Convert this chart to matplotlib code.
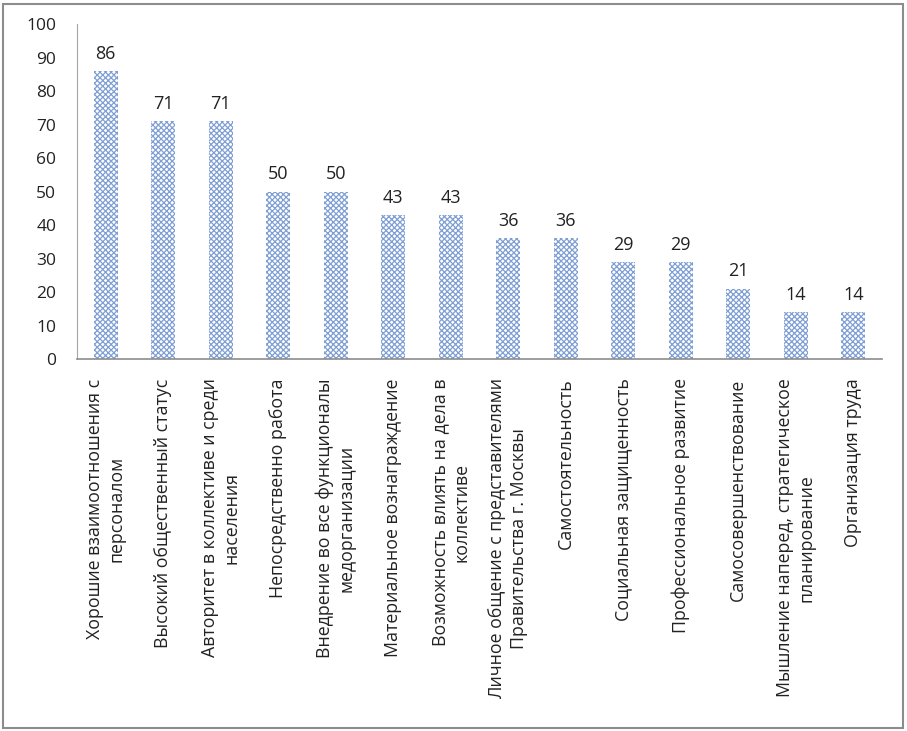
import matplotlib
matplotlib.use("Agg")
import matplotlib.pyplot as plt
from matplotlib.patches import Rectangle

categories = [
    "Хорошие взаимоотношения с\nперсоналом",
    "Высокий общественный статус",
    "Авторитет в коллективе и среди\nнаселения",
    "Непосредственно работа",
    "Внедрение во все функционалы\nмедорганизации",
    "Материальное вознаграждение",
    "Возможность влиять на дела в\nколлективе",
    "Личное общение с представителями\nПравительства г. Москвы",
    "Самостоятельность",
    "Социальная защищенность",
    "Профессиональное развитие",
    "Самосовершенствование",
    "Мышление наперед, стратегическое\nпланирование",
    "Организация труда",
]
values = [86, 71, 71, 50, 50, 43, 43, 36, 36, 29, 29, 21, 14, 14]
yticks = [0, 10, 20, 30, 40, 50, 60, 70, 80, 90, 100]

plt.rcParams['font.family'] = ['Open Sans', 'DejaVu Sans']
plt.rcParams['hatch.linewidth'] = 0.9

fig = plt.figure(figsize=(9.07, 7.31), dpi=100)
ax = fig.add_axes([77/907, 1-359/731, 805/907, 335/731])

x = list(range(len(categories)))
bars = ax.bar(x, values, width=0.42, facecolor='white', edgecolor='#7f9fd4',
              hatch='xxxxxx', linewidth=0)
for xi, v in zip(x, values):
    ax.annotate(str(v), (xi, v), xytext=(0, 6), textcoords='offset points',
                ha='center', va='bottom', fontsize=13, color='#222222')

ax.set_xlim(-0.5, len(categories) - 0.5)
ax.set_ylim(0, 100)
ax.set_yticks(yticks)
ax.set_xticks(x)
ax.set_xticklabels(categories, rotation=90, ha='center', va='top',
                   multialignment='center', fontsize=12.8, linespacing=1.25)
ax.tick_params(axis='both', length=0, labelcolor='#222222')
ax.tick_params(axis='x', pad=14)
ax.tick_params(axis='y', pad=15, labelsize=12.5)
for s in ['top', 'right']:
    ax.spines[s].set_visible(False)
ax.spines['left'].set_color('#a6a6a6')
ax.spines['bottom'].set_color('#8c8c8c')
ax.spines['bottom'].set_linewidth(1.2)

fig.patches.append(Rectangle((3/907, 3/731), 900/907, 724/731, transform=fig.transFigure,
                             fill=False, edgecolor='#8c8c8c', linewidth=1.5))

fig.savefig('out.png', dpi=100)
